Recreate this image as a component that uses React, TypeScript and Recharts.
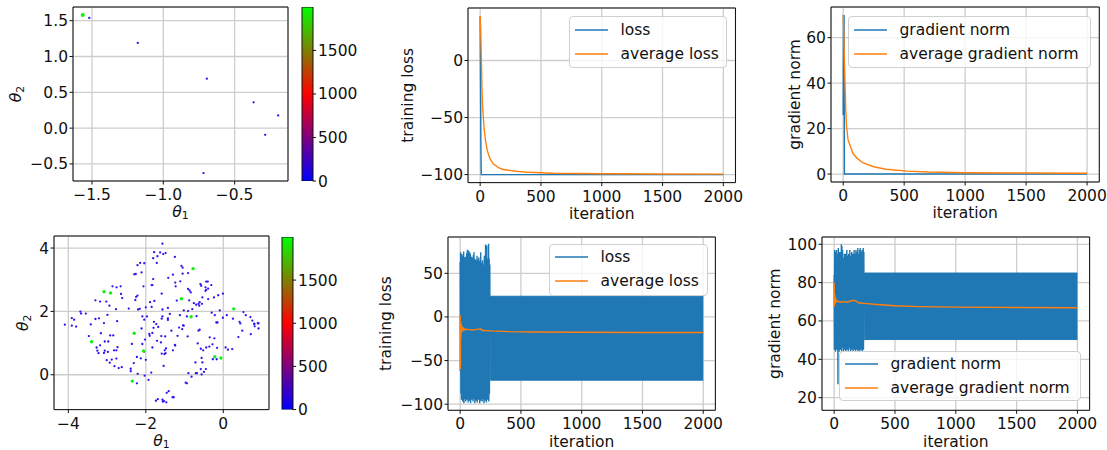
import React from "react";
import {
  ComposedChart,
  ScatterChart,
  BarChart,
  Line,
  Area,
  Scatter,
  Bar,
  XAxis,
  YAxis,
  CartesianGrid,
  ReferenceArea,
  Legend,
} from "recharts";

// ---------- data ----------
const ITER_TICKS = [0, 500, 1000, 1500, 2000];
const ITER_DOMAIN: [number, number] = [-100, 2100];
const CB_TICKS = [0, 500, 1000, 1500];
const CB_MAX = 1999;

// top-left: theta path (blue = early iterations, green = late)
const TH1_X_TICKS = [-1.5, -1.0, -0.5];
const TH1_Y_TICKS = [-0.5, 0, 0.5, 1.0, 1.5];
const TH1_EARLY: [number, number][] = [
  [-1.519, 1.538], [-1.179, 1.19], [-0.695, 0.69], [-0.367, 0.36],
  [-0.195, 0.178], [-0.286, -0.094], [-0.718, -0.628],
];
const TH1_LATE: [number, number][] = [[-1.565, 1.58]];

// top-middle / top-right
const LOSS1_TICKS = [-100, -50, 0];
const LOSS1: [number, number][] = [[0, 39], [3, -20], [6, -75], [9, -100], [2000, -100]];
const AVG_LOSS1: [number, number][] = [
  [0, 39], [5, 25], [10, 0], [15, -25], [20, -40], [28, -53], [34, -61], [45, -71],
  [59, -79], [80, -86], [108, -90.6], [150, -93.8], [190, -95.5], [290, -97],
  [400, -98], [600, -98.8], [1000, -99.3], [1500, -99.5], [2000, -99.6],
];
const GRAD1_TICKS = [0, 20, 40, 60];
const GRAD1: [number, number][] = [[0, 26], [2, 70], [4, 40], [7, 70], [10, 0], [2000, 0]];
const AVG_GRAD1: [number, number][] = [
  [0, 70], [5, 62], [10, 50], [15, 40], [20, 30], [27, 21], [40, 15], [60, 12],
  [80, 9], [115, 6.9], [160, 5], [250, 3.2], [350, 2.1], [525, 1.3], [700, 0.9],
  [1000, 0.6], [1500, 0.45], [2000, 0.35],
];

// bottom-left: theta cloud
const TH2_X_TICKS = [-4, -2, 0];
const TH2_Y_TICKS = [0, 2, 4];
const TH2_EARLY: [number, number][] = [
  [-1.571, 4.137], [-1.785, 3.87], [-1.63, 3.86], [-1.55, 3.81], [-1.7, 3.74], [-1.81, 3.68],
  [-2.146, 3.53], [-2.04, 3.52], [-2.215, 3.46], [-1.717, 3.53], [-2.11, 3.23], [-2.26, 3.18],
  [-2.3, 3.17], [-1.81, 3.02], [-1.85, 2.83], [-1.83, 2.83], [-2.06, 2.79], [-2.86, 2.79],
  [-2.755, 2.76], [-2.65, 2.79], [-2.64, 2.55], [-2.61, 2.42], [-2.215, 2.5], [-2.25, 2.46],
  [-2.27, 2.36], [-3.3, 2.35], [-3.18, 2.31], [-3.02, 2.31], [-2.94, 2.18], [-2.77, 2.07],
  [-2.44, 2.09], [-2.155, 2.08], [-2.2, 2.06], [-2.0, 2.13], [-1.85, 2.14], [-1.78, 2.33],
  [-1.89, 2.29], [-1.59, 2.56], [-1.57, 2.06], [-3.69, 1.99], [-3.67, 1.93], [-3.55, 1.93],
  [-3.91, 1.79], [-3.85, 1.74], [-4.09, 1.58], [-3.91, 1.55], [-3.3, 1.76], [-3.21, 1.78],
  [-2.99, 1.89], [-3.08, 1.63], [-2.74, 1.69], [-2.09, 1.84], [-1.97, 1.84], [-2.04, 1.74],
  [-1.79, 1.67], [-1.57, 1.84], [-1.59, 1.77], [-3.42, 1.59],
  [-1.49, 3.84], [-1.25, 3.72], [-1.08, 3.44], [-1.05, 3.38], [-1.3, 3.16], [-1.42, 3.06],
  [-1.05, 3.19], [-0.91, 3.21], [-1.11, 2.95], [-1.24, 2.91], [-1.23, 2.79], [-0.44, 2.94],
  [-0.4, 2.94], [-0.59, 2.86], [-0.57, 2.81], [-0.46, 2.76], [-0.44, 2.68], [-0.39, 2.72],
  [-0.46, 2.65], [-0.31, 2.83], [-0.91, 2.71], [-0.87, 2.66], [-0.84, 2.6], [-0.54, 2.44],
  [-0.39, 2.39], [-0.24, 2.44], [-0.13, 2.51], [-0.01, 2.56], [-1.2, 2.34], [-0.88, 2.35],
  [-0.61, 2.29], [-0.64, 2.24], [-0.62, 2.18], [-0.55, 2.24], [-0.76, 2.26], [-0.7, 2.21],
  [-0.8, 2.07], [-1.43, 2.11], [-1.02, 2.03], [-0.91, 2.01], [-0.09, 2.03], [0.52, 1.98],
  [-1.43, 1.78], [-1.38, 1.92], [-1.12, 1.88], [-0.94, 1.84], [-0.69, 1.85], [-0.3, 1.96],
  [-0.22, 1.88], [-0.01, 1.8], [0.09, 1.88], [0.25, 1.77], [0.42, 1.67], [0.58, 1.88],
  [0.7, 1.82], [0.75, 1.71], [0.8, 1.61], [0.89, 1.63], [-1.43, 1.73], [-0.15, 1.65],
  [-1.04, 1.56],
  [-3.8, 1.52], [-3.47, 1.22], [-3.16, 1.31], [-2.92, 1.24], [-2.84, 1.24], [-3.18, 0.93],
  [-3.27, 0.86], [-3.25, 0.76], [-3.22, 0.68], [-3.08, 0.69], [-3.06, 0.76], [-2.98, 0.72],
  [-3.06, 1.05], [-2.97, 1.05], [-2.73, 0.87], [-2.76, 0.77], [-2.82, 0.77], [-3.01, 0.46],
  [-2.88, 0.48], [-2.76, 0.51], [-2.93, 0.38], [-2.81, 0.27], [-2.7, 0.21], [-2.62, 0.24],
  [-2.39, 0.19], [-2.39, 0.11], [-2.31, 0.37], [-2.23, 0.56], [-2.13, 0.52], [-2.36, 0.97],
  [-2.11, 1.46], [-2.09, 0.97], [-2.04, 0.73], [-2.0, 0.47], [-1.9, 1.23], [-1.91, 1.29],
  [-1.83, 1.32], [-1.8, 1.48], [-2.02, 1.11], [-1.83, 0.86], [-1.73, 1.6], [-1.68, 1.51],
  [-1.6, 1.22], [-1.71, 1.07], [-2.21, 0.03], [-1.86, 0.07], [-2.23, -0.27], [-2.03, -0.03],
  [-1.93, -0.16], [-1.69, -0.77], [-1.74, -0.82],
  [-1.34, 1.39], [-1.14, 1.49], [-1.06, 1.44], [-1.02, 1.55], [-0.61, 1.42], [-0.64, 1.39],
  [-0.18, 1.65], [0.44, 1.62], [0.49, 1.39], [0.8, 1.6], [0.91, 1.62], [0.81, 1.53],
  [0.91, 1.46], [0.71, 1.28], [0.39, 1.19], [-1.5, 1.21], [-1.18, 1.23], [-0.92, 1.21],
  [-0.35, 1.18], [-0.23, 1.15], [-1.61, 1.02], [-0.66, 0.99], [-1.48, 0.83], [-1.51, 0.77],
  [-1.3, 0.77], [-1.24, 0.92], [-1.25, 0.94], [-1.59, 0.67], [-1.52, 0.65], [-1.49, 0.68],
  [-0.58, 0.82], [-0.52, 0.77], [-0.44, 0.86], [-0.36, 0.89], [-0.28, 0.96], [-0.16, 0.85],
  [0.06, 0.86], [0.12, 0.79], [0.23, 0.81], [-0.27, 0.49], [-0.17, 0.49], [-0.56, 0.53],
  [-0.72, 0.39], [-0.54, 0.39], [-1.54, 0.28], [-0.58, 0.18], [-0.45, 0.18], [-0.5, 0.09],
  [-0.56, 0.01], [-0.9, 0.05], [-0.71, 0.05], [-0.68, 0.05], [-0.82, -0.06], [-0.97, -0.25],
  [-0.94, -0.27], [-1.46, -0.57], [-1.41, -0.52], [-1.31, -0.71], [-1.28, -0.71],
  [-1.57, -0.79], [-1.53, -0.83], [-1.47, -0.87], [-1.56, -0.85],
];
const TH2_LATE: [number, number][] = [
  [-3.08, 2.62], [-2.91, 2.58], [-0.78, 3.35], [-1.08, 2.4], [0.27, 2.08], [-0.83, 1.83],
  [-3.4, 1.04], [-2.3, 1.31], [-2.06, 0.75], [-2.35, -0.2], [-0.22, 0.57], [-0.06, 0.53],
];

// bottom-middle: loss oscillation (first 250 iterations), then a steady band
const LOSS2_TICKS = [-100, -50, 0, 50];
const LOSS2_EARLY: [number, number][] = [
  [0, 63], [2, -62], [4, 74], [6, -88], [9, 66], [11, -95], [14, 72], [16, -84], [19, 70],
  [21, -97], [24, 64], [26, -90], [29, 75], [31, -99], [34, 68], [36, -86], [39, 61],
  [41, -94], [44, 69], [46, -97], [49, 60], [51, -88], [54, 73], [56, -95], [59, 77],
  [61, -90], [64, 70], [66, -98], [69, 76], [71, -86], [74, 60], [76, -96], [79, 74],
  [81, -92], [84, 72], [86, -99], [89, 64], [91, -87], [94, 69], [96, -95], [99, 68],
  [101, -90], [104, 55], [106, -97], [109, 71], [111, -85], [114, 74], [116, -94], [119, 62],
  [121, -99], [124, 66], [126, -88], [129, 65], [131, -96], [134, 54], [136, -91], [139, 70],
  [141, -98], [144, 60], [146, -86], [149, 66], [151, -95], [154, 68], [156, -92], [159, 52],
  [161, -99], [164, 64], [166, -87], [169, 74], [171, -96], [174, 58], [176, -90], [179, 62],
  [181, -97], [184, 65], [186, -85], [189, 50], [191, -94], [194, 60], [196, -99], [199, 70],
  [201, -89], [204, 62], [206, -96], [209, 83], [211, -91], [214, 68], [216, -98], [219, 82],
  [221, -86], [224, 67], [226, -95], [229, 53], [231, -90], [234, 84], [236, -97], [239, 67],
  [241, -88], [244, 60], [246, -72], [248, 23],
];
const LOSS2_BAND: [number, number, number][] = [[248, -72.5, 23.7], [2000, -72.5, 23.7]];
const AVG_LOSS2: [number, number][] = [
  [0, 2], [2, -60], [4, -5], [6, -25], [8, -8], [10, -18], [13, -10], [16, -16], [20, -12],
  [25, -15], [30, -13], [40, -15], [50, -14], [75, -14.5], [100, -15], [125, -14.5],
  [150, -14], [170, -13.5], [180, -15.5], [200, -15.5], [250, -16], [400, -16.8],
  [600, -17.2], [1000, -17.6], [1500, -17.8], [2000, -17.9],
];

// bottom-right: gradient norm oscillation
const GRAD2_TICKS = [20, 40, 60, 80, 100];
const GRAD2_EARLY: [number, number][] = [
  [0, 84], [2, 45], [4, 97], [6, 48], [9, 94], [11, 44], [14, 96], [16, 47], [19, 97],
  [21, 45], [24, 93], [26, 48], [29, 95], [31, 27], [34, 98], [36, 46], [39, 96], [41, 44],
  [44, 92], [46, 47], [49, 96], [51, 45], [54, 94], [56, 48], [59, 100], [61, 44], [64, 99],
  [66, 46], [69, 97], [71, 48], [74, 93], [76, 44], [79, 91], [81, 47], [84, 95], [86, 45],
  [89, 92], [91, 48], [94, 95], [96, 44], [99, 91], [101, 47], [104, 97], [106, 45],
  [109, 94], [111, 48], [114, 90], [116, 44], [119, 95], [121, 46], [124, 93], [126, 48],
  [129, 97], [131, 45], [134, 91], [136, 44], [139, 94], [141, 47], [144, 96], [146, 45],
  [149, 92], [151, 48], [154, 95], [156, 44], [159, 90], [161, 46], [164, 97], [166, 45],
  [169, 93], [171, 48], [174, 95], [176, 44], [179, 97], [181, 46], [184, 92], [186, 45],
  [189, 96], [191, 48], [194, 98], [196, 44], [199, 91], [201, 47], [204, 95], [206, 45],
  [209, 97], [211, 44], [214, 98], [216, 47], [219, 94], [221, 45], [224, 96], [226, 48],
  [229, 97], [231, 44], [234, 95], [236, 46], [239, 98], [241, 45], [244, 96], [246, 50],
  [249, 85],
];
const GRAD2_BAND: [number, number, number][] = [[249, 50.3, 85], [2000, 50.3, 85]];
const AVG_GRAD2: [number, number][] = [
  [0, 80], [2, 67.5], [5, 74], [8, 69], [12, 72], [16, 70], [25, 70.5], [40, 70], [60, 69.8],
  [80, 70.2], [100, 69.8], [130, 70.3], [160, 70.8], [180, 70.4], [200, 69.5], [250, 69.2],
  [350, 68.6], [500, 67.9], [700, 67.5], [1000, 67.2], [1500, 67.0], [2000, 66.9],
];

// ---------- styling / layout ----------
const FONT = '"DejaVu Sans", Verdana, sans-serif';
const FS = 15.5;
const INK = "#111";
const C_LOSS = "#1f77b4";
const C_AVG = "#ff7f0e";
const C_GRID = "#cdcdcd";
const C_EARLY = "#2a14f0";
const C_LATE = "#12f012";

const YW = 75;
const XH = 48;
const PAD = 8;

type Rect = { l: number; t: number; r: number; b: number };
const R1: Rect = { l: 73, t: 7, r: 288, b: 181 };
const CB1: Rect = { l: 302, t: 7, r: 312.5, b: 181 };
const R2: Rect = { l: 467.5, t: 7.7, r: 735, b: 182.3 };
const R3: Rect = { l: 830.7, t: 7.3, r: 1099, b: 182.3 };
const R4: Rect = { l: 54, t: 235.7, r: 269, b: 409.3 };
const CB4: Rect = { l: 281.7, t: 236.7, r: 292.3, b: 409.3 };
const R5: Rect = { l: 448.3, t: 236.7, r: 715.7, b: 410 };
const R6: Rect = { l: 821.7, t: 236.7, r: 1089.3, b: 410 };

const pts = (a: [number, number][]) => a.map(([x, y]) => ({ x, y }));
const band = (a: [number, number, number][]) => a.map(([x, lo, hi]) => ({ x, range: [lo, hi] }));
const minus = (s: string) => s.replace("-", "\u2212");
const fmt0 = (v: number) => minus(String(v));
const fmt1 = (v: number) => minus(v.toFixed(1));

const tickText = { fontSize: FS, fill: INK, fontFamily: FONT };
const xAxisProps = {
  type: "number" as const,
  dataKey: "x",
  interval: 0 as const,
  allowDataOverflow: true,
  height: XH,
  tick: tickText,
  tickSize: 3.5,
  tickMargin: 4.5,
  axisLine: false,
  tickLine: { stroke: INK },
};
const yAxisProps = {
  type: "number" as const,
  interval: 0 as const,
  allowDataOverflow: true,
  width: YW,
  tick: tickText,
  tickSize: 3.5,
  tickMargin: 1.5,
  axisLine: false,
  tickLine: { stroke: INK },
};

const MARGIN = { top: PAD, right: PAD, bottom: 0, left: 0 };
const boxStyle = (p: Rect): React.CSSProperties => ({
  position: "absolute",
  left: p.l - YW,
  top: p.t - PAD,
});
const chartW = (p: Rect) => p.r - p.l + YW + PAD;
const chartH = (p: Rect) => p.b - p.t + PAD + XH;

function AxisTitle(props: any) {
  const { viewBox, text, sub, side, dist } = props;
  if (!viewBox) return null;
  const { x, y, width, height } = viewBox;
  const body = sub ? (
    <>
      <tspan fontStyle="italic">θ</tspan>
      <tspan fontSize={FS * 0.7} dy={3.5}>{sub}</tspan>
    </>
  ) : (
    text
  );
  if (side === "bottom") {
    const cx = x + width / 2;
    const cy = y + dist;
    return (
      <text x={cx} y={cy} textAnchor="middle" dominantBaseline="central" fontSize={FS} fontFamily={FONT} fill={INK}>
        {body}
      </text>
    );
  }
  const cx = x + width - dist;
  const cy = y + height / 2;
  return (
    <text
      x={cx}
      y={cy}
      transform={`rotate(-90 ${cx} ${cy})`}
      textAnchor="middle"
      dominantBaseline="central"
      fontSize={FS}
      fontFamily={FONT}
      fill={INK}
    >
      {body}
    </text>
  );
}

type LegendItem = { name: string; color: string };

function legendContent(items: LegendItem[], w: number, h: number) {
  return () => (
    <div
      style={{
        width: w,
        height: h,
        boxSizing: "border-box",
        border: "1px solid #d0d0d0",
        borderRadius: 4,
        background: "rgba(255,255,255,0.8)",
        fontFamily: FONT,
        fontSize: FS,
        color: INK,
        paddingTop: 0.5,
      }}
    >
      {items.map((e) => (
        <div key={e.name} style={{ display: "flex", alignItems: "center", height: 24 }}>
          <svg width={38} height={6} style={{ display: "block" }}>
            <line x1={5} y1={3} x2={38} y2={3} stroke={e.color} strokeWidth={1.6} />
          </svg>
          <span style={{ marginLeft: 12.5, whiteSpace: "nowrap" }}>{e.name}</span>
        </div>
      ))}
    </div>
  );
}

function legendAt(p: Rect, x: number, y: number, w: number, h: number, items: LegendItem[]) {
  return (
    <Legend
      layout="vertical"
      align="center"
      verticalAlign="middle"
      wrapperStyle={{ left: x - (p.l - YW), top: y - (p.t - PAD), width: w, height: h }}
      content={legendContent(items, w, h)}
    />
  );
}

const frame = (xd: [number, number], yd: [number, number]) => (
  <ReferenceArea x1={xd[0]} x2={xd[1]} y1={yd[0]} y2={yd[1]} fill="none" stroke={INK} strokeWidth={1} ifOverflow="visible" />
);

const dot = (r: number, color: string) => (p: any) => <circle cx={p.cx} cy={p.cy} r={r} fill={color} />;

function ScatterPanel(props: {
  rect: Rect;
  xd: [number, number];
  yd: [number, number];
  xt: number[];
  yt: number[];
  fmt: (v: number) => string;
  early: [number, number][];
  late: [number, number][];
  lateR: number;
  xDist: number;
  yDist: number;
}) {
  const { rect, xd, yd, xt, yt, fmt, early, late, lateR, xDist, yDist } = props;
  return (
    <div style={boxStyle(rect)}>
      <ScatterChart width={chartW(rect)} height={chartH(rect)} margin={MARGIN}>
        <CartesianGrid stroke={C_GRID} strokeWidth={1.3} />
        <XAxis {...xAxisProps} domain={xd} ticks={xt} tickFormatter={fmt} label={<AxisTitle side="bottom" sub="1" dist={xDist} />} />
        <YAxis {...yAxisProps} dataKey="y" domain={yd} ticks={yt} tickFormatter={fmt} label={<AxisTitle side="left" sub="2" dist={yDist} />} />
        <Scatter data={pts(early)} fill={C_EARLY} shape={dot(1.15, C_EARLY)} isAnimationActive={false} />
        <Scatter data={pts(late)} fill={C_LATE} shape={dot(lateR, C_LATE)} isAnimationActive={false} />
        {frame(xd, yd)}
      </ScatterChart>
    </div>
  );
}

function ColorBar({ rect, id }: { rect: Rect; id: string }) {
  const cbData = [{ name: "iteration", v: CB_MAX }];
  const bottomPad = 16;
  return (
    <div style={{ position: "absolute", left: rect.l - PAD, top: rect.t - PAD }}>
      <BarChart
        width={rect.r - rect.l + PAD + 50}
        height={rect.b - rect.t + PAD + bottomPad}
        data={cbData}
        margin={{ top: PAD, bottom: bottomPad, left: PAD, right: 0 }}
        barCategoryGap={0}
        barGap={0}
      >
        <defs>
          <linearGradient id={id} x1="0" y1="1" x2="0" y2="0">
            <stop offset="0" stopColor="#0000ff" />
            <stop offset="0.5" stopColor="#ff0000" />
            <stop offset="1" stopColor="#00ff00" />
          </linearGradient>
        </defs>
        <XAxis dataKey="name" hide />
        <YAxis
          orientation="right"
          type="number"
          domain={[0, CB_MAX]}
          allowDataOverflow
          ticks={CB_TICKS}
          interval={0}
          width={50}
          tick={tickText}
          tickSize={3.5}
          tickMargin={2}
          axisLine={false}
          tickLine={{ stroke: INK }}
          tickFormatter={fmt0}
        />
        <Bar dataKey="v" fill={`url(#${id})`} stroke={INK} strokeWidth={1} isAnimationActive={false} />
      </BarChart>
    </div>
  );
}

function CurvePanel(props: {
  rect: Rect;
  yd: [number, number];
  yt: number[];
  yLabel: string;
  yDist: number;
  xDist: number;
  main: [number, number][];
  bandData?: [number, number, number][];
  avg: [number, number][];
  names: [string, string];
  legend: { x: number; y: number; w: number; h: number };
}) {
  const { rect, yd, yt, yLabel, yDist, xDist, main, bandData, avg, names, legend } = props;
  const items: LegendItem[] = [
    { name: names[0], color: C_LOSS },
    { name: names[1], color: C_AVG },
  ];
  return (
    <div style={boxStyle(rect)}>
      <ComposedChart width={chartW(rect)} height={chartH(rect)} margin={MARGIN}>
        <CartesianGrid stroke={C_GRID} strokeWidth={1.3} />
        <XAxis
          {...xAxisProps}
          domain={ITER_DOMAIN}
          ticks={ITER_TICKS}
          tickFormatter={fmt0}
          label={<AxisTitle side="bottom" text="iteration" dist={xDist} />}
        />
        <YAxis
          {...yAxisProps}
          domain={yd}
          ticks={yt}
          tickFormatter={fmt0}
          label={<AxisTitle side="left" text={yLabel} dist={yDist} />}
        />
        {bandData && (
          <Area
            data={band(bandData)}
            dataKey="range"
            type="linear"
            fill={C_LOSS}
            fillOpacity={1}
            stroke={C_LOSS}
            strokeWidth={1}
            legendType="none"
            dot={false}
            activeDot={false}
            isAnimationActive={false}
          />
        )}
        <Line data={pts(main)} dataKey="y" name={names[0]} type="linear" stroke={C_LOSS} strokeWidth={1.4} dot={false} activeDot={false} isAnimationActive={false} />
        <Line data={pts(avg)} dataKey="y" name={names[1]} type="linear" stroke={C_AVG} strokeWidth={1.4} dot={false} activeDot={false} isAnimationActive={false} />
        {frame(ITER_DOMAIN, yd)}
        {legendAt(rect, legend.x, legend.y, legend.w, legend.h, items)}
      </ComposedChart>
    </div>
  );
}

export default function App() {
  return (
    <div style={{ position: "absolute", left: 0, top: 0, width: 1107, height: 450, background: "#fff", overflow: "hidden" }}>
      <ScatterPanel
        rect={R1}
        xd={[-1.633, -0.126]}
        yd={[-0.738, 1.691]}
        xt={TH1_X_TICKS}
        yt={TH1_Y_TICKS}
        fmt={fmt1}
        early={TH1_EARLY}
        late={TH1_LATE}
        lateR={2}
        xDist={30.5}
        yDist={57}
      />
      <ColorBar rect={CB1} id="cmapTop" />
      <CurvePanel
        rect={R2}
        yd={[-107, 46]}
        yt={LOSS1_TICKS}
        yLabel="training loss"
        yDist={60.5}
        xDist={31}
        main={LOSS1}
        avg={AVG_LOSS1}
        names={["loss", "average loss"]}
        legend={{ x: 569, y: 16, w: 158, h: 52 }}
      />
      <CurvePanel
        rect={R3}
        yd={[-3.5, 73.5]}
        yt={GRAD1_TICKS}
        yLabel="gradient norm"
        yDist={35.7}
        xDist={31}
        main={GRAD1}
        avg={AVG_GRAD1}
        names={["gradient norm", "average gradient norm"]}
        legend={{ x: 848, y: 16, w: 243, h: 52 }}
      />
      <ScatterPanel
        rect={R4}
        xd={[-4.37, 1.18]}
        yd={[-1.1, 4.38]}
        xt={TH2_X_TICKS}
        yt={TH2_Y_TICKS}
        fmt={fmt0}
        early={TH2_EARLY}
        late={TH2_LATE}
        lateR={1.7}
        xDist={31}
        yDist={31}
      />
      <ColorBar rect={CB4} id="cmapBottom" />
      <CurvePanel
        rect={R5}
        yd={[-107, 91.6]}
        yt={LOSS2_TICKS}
        yLabel="training loss"
        yDist={61.6}
        xDist={31.7}
        main={LOSS2_EARLY}
        bandData={LOSS2_BAND}
        avg={AVG_LOSS2}
        names={["loss", "average loss"]}
        legend={{ x: 549, y: 244, w: 159, h: 52 }}
      />
      <CurvePanel
        rect={R6}
        yd={[13.4, 103.8]}
        yt={GRAD2_TICKS}
        yLabel="gradient norm"
        yDist={46.7}
        xDist={31.7}
        main={GRAD2_EARLY}
        bandData={GRAD2_BAND}
        avg={AVG_GRAD2}
        names={["gradient norm", "average gradient norm"]}
        legend={{ x: 839, y: 351, w: 242, h: 50 }}
      />
    </div>
  );
}
